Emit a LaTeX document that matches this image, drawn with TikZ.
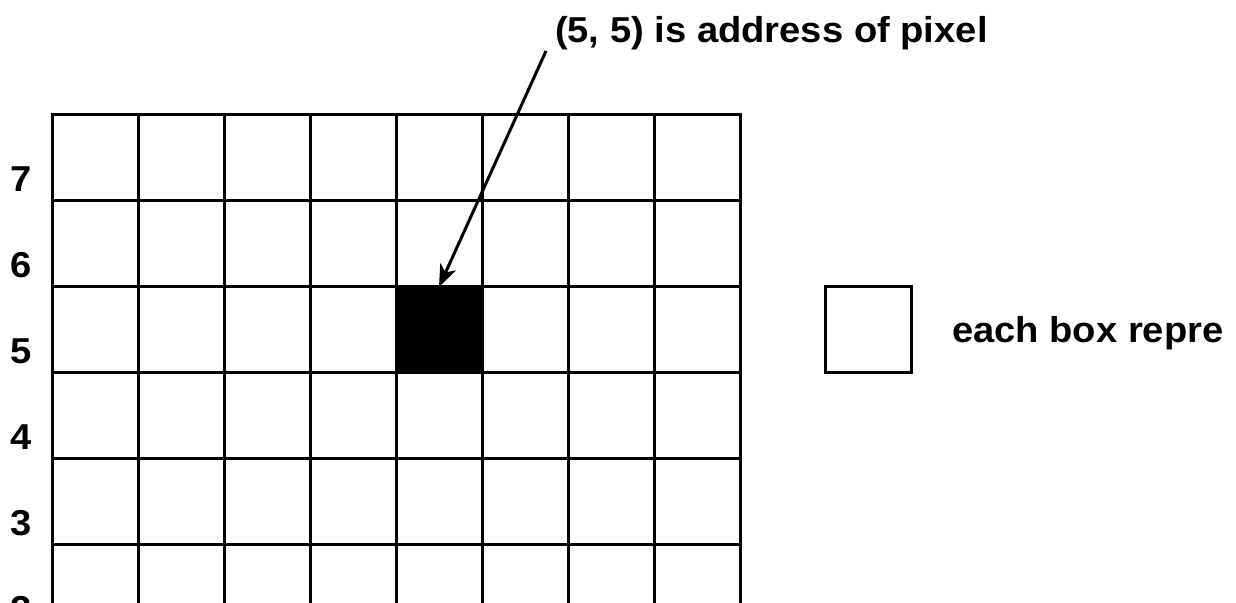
\documentclass[tikz,border=0pt]{standalone}
\usepackage{fontspec}
\setmainfont{Liberation Sans}[FakeStretch=1.06]
\usetikzlibrary{arrows.meta}
\begin{document}
\begin{tikzpicture}[x=1pt,y=-1pt,
  gridline/.style={draw=black, line width=3pt, line cap=rect},
  cellbox/.style={draw=black, line width=3pt, minimum size=86pt, inner sep=0pt, outer sep=0pt},
  txt/.style={font=\fontsize{36}{40}\selectfont\bfseries, inner sep=0pt, outer sep=0pt},
  pointer/.style={draw=black, line width=3pt, -{Stealth[length=22pt,width=17pt,inset=6pt]}}]
\useasboundingbox (0,0) rectangle (1236,602);
\fill[white] (0,0) rectangle (1236,602);
\clip (0,0) rectangle (1236,602);
% grid
\foreach \i in {0,...,8} \draw[gridline] (52+86*\i,114) -- (52+86*\i,640);
\foreach \j in {0,...,5} \draw[gridline] (52,114+86*\j) -- (740,114+86*\j);
% highlighted pixel
\node[cellbox, fill=black] (pix) at (439,329) {};
% row labels
\foreach \n/\y in {7/191.5,6/277.5,5/363.5,4/449.5,3/535.5,2/621.5}
  \node[txt, anchor=base] (row\n) at (21,\y) {\n};
% title and arrow
\node[txt, anchor=base west] (title) at (555,43) {(5, 5) is address of pixel};
\coordinate (a0) at (546,51);
\draw[pointer] (a0) -- ([yshift=-1pt]pix.north);
% legend
\node[cellbox, fill=white] (legend) at (868.5,329) {};
\node[txt, anchor=base west] (legendtext) at (952,342) {each box repre};
\end{tikzpicture}
\end{document}
